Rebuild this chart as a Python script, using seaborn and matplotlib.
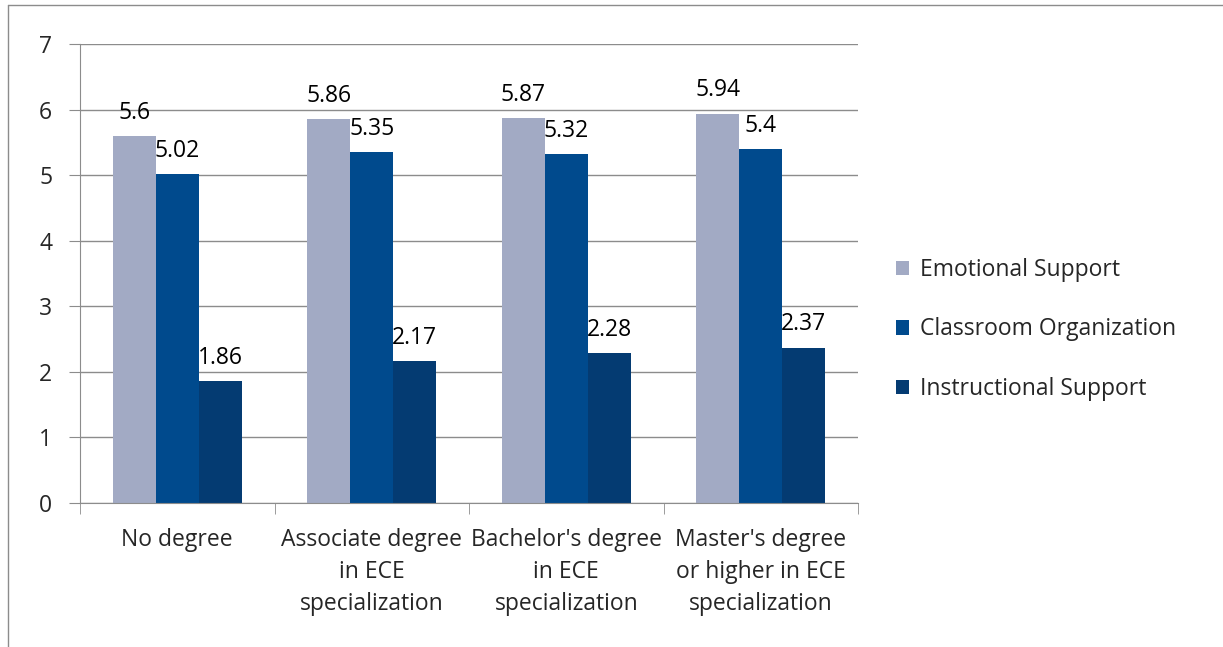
import matplotlib
matplotlib.use("Agg")
import matplotlib.pyplot as plt
import seaborn as sns
import pandas as pd

# data
categories = ["No degree", "Associate degree\nin ECE\nspecialization",
              "Bachelor's degree\nin ECE\nspecialization",
              "Master's degree\nor higher in ECE\nspecialization"]
series = ["Emotional Support", "Classroom Organization", "Instructional Support"]
emotional = [5.6, 5.86, 5.87, 5.94]
classroom = [5.02, 5.35, 5.32, 5.4]
instructional = [1.86, 2.17, 2.28, 2.37]
colors = ["#A2AAC4", "#004A8D", "#043B72"]

df = pd.DataFrame({
    "cat": categories * 3,
    "series": [series[0]] * 4 + [series[1]] * 4 + [series[2]] * 4,
    "value": emotional + classroom + instructional,
})

sns.set_style("white")
plt.rcParams["font.family"] = ["Open Sans", "DejaVu Sans"]
fs = 16.5

fig = plt.figure(figsize=(12.23, 6.47), dpi=100)
ax = fig.add_axes([80 / 1223, 1 - 503 / 647, 778 / 1223, 459 / 647])

sns.barplot(data=df, x="cat", y="value", hue="series", palette=colors,
            width=0.663, saturation=1, ax=ax, edgecolor="none", linewidth=0)

for c in ax.containers:
    ax.bar_label(c, labels=[f"{v:g}" for v in c.datavalues], padding=8,
                 fontsize=fs, color="black")

ax.set_ylim(0, 7)
ax.set_xlim(-0.5, 3.5)
ax.set_yticks(range(0, 8))
ax.yaxis.grid(True, color="#8C8C8C", linewidth=1)
ax.set_axisbelow(True)
ax.set_xlabel("")
ax.set_ylabel("")
for s in ["top", "right"]:
    ax.spines[s].set_visible(False)
ax.spines["left"].set_color("#8C8C8C")
ax.spines["bottom"].set_color("#8C8C8C")
ax.tick_params(axis="y", length=8, color="#8C8C8C", labelsize=fs, pad=12, left=True)
ax.set_xticks(range(4))
ax.set_xticklabels(categories, fontsize=fs, linespacing=1.45)
ax.tick_params(axis="x", length=0, pad=18)
# minor ticks at category boundaries
ax.set_xticks([-0.5, 0.5, 1.5, 2.5, 3.5], minor=True)
ax.tick_params(axis="x", which="minor", length=8, color="#8C8C8C", bottom=True)

ax.legend(loc="center left", bbox_to_anchor=(1.022, 0.378), frameon=False,
          fontsize=fs, handlelength=0.6, handleheight=0.6, handletextpad=0.45,
          labelspacing=1.55)

# outer chart border (top and left)
fig.add_artist(plt.Line2D([8 / 1223, 8 / 1223], [0, 1 - 5 / 647], color="#8C8C8C", lw=1))
fig.add_artist(plt.Line2D([8 / 1223, 1], [1 - 5 / 647, 1 - 5 / 647], color="#8C8C8C", lw=1))

fig.savefig("out.png", dpi=100)
